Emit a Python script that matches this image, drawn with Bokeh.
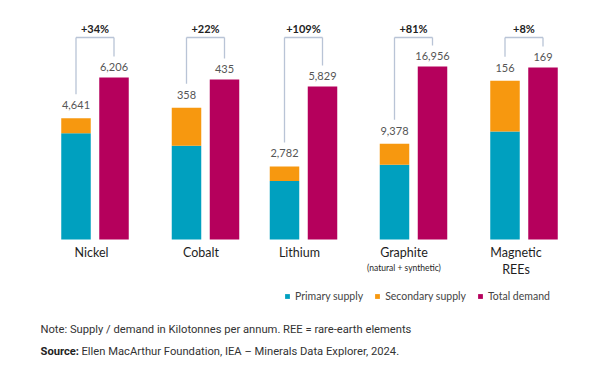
from bokeh.plotting import figure
from bokeh.models import Range1d, Legend, LegendItem, Label
from bokeh.embed import file_html
from bokeh.resources import INLINE
from bokeh.core.properties import value

# ---------------- data ----------------
categories = ["Nickel", "Cobalt", "Lithium", "Graphite", "Magnetic REEs"]
total_supply = [4641, 358, 2782, 9378, 156]
primary_supply = [4070, 255, 2230, 7320, 106]
secondary_supply = [s - p for s, p in zip(total_supply, primary_supply)]
total_demand = [6206, 435, 5829, 16956, 169]
growth_labels = ["+34%", "+22%", "+109%", "+81%", "+8%"]
cat_line1 = ["Nickel", "Cobalt", "Lithium", "Graphite", "Magnetic"]
cat_sub = ["", "", "", "(natural + synthetic)", "REEs"]

# ---------------- layout / style ----------------
W, H = 586, 357
TOP, BOTTOM = 0, H                # screen coordinates of the frame
group_x = [94.5, 205, 303, 413, 523.5]
label_dx = [-3.5, -4.5, -4, -9.5, -8]
bar_off, bar_w = 19, 29.5
baseline = 239
demand_px = [162, 160, 153, 173, 172]
bracket_top = 37
TEAL, ORANGE, MAGENTA = "#00a0bf", "#f7980f", "#b5005c"
BRACKET = "#b9c4d6"
FONT = value("Lato")

p = figure(width=W, height=H, x_range=Range1d(0, W), y_range=Range1d(BOTTOM, TOP),
           output_backend="svg", toolbar_location=None,
           x_axis_location=None, y_axis_location=None,
           min_border=0, outline_line_color=None, background_fill_color="white",
           border_fill_color="white")
p.grid.grid_line_color = None

ranges = {}
for i, d in enumerate(total_demand):
    u = d / demand_px[i]
    ranges[f"g{i}"] = Range1d(start=-(BOTTOM - baseline) * u, end=(baseline - TOP) * u)
p.extra_y_ranges = ranges

legend_r = {}
for i in range(len(categories)):
    name = f"g{i}"
    rng = ranges[name]
    u = (rng.end - rng.start) / H
    xs = group_x[i] - bar_off
    xd = group_x[i] + bar_off
    r1 = p.vbar(x=[xs], bottom=[0], top=[primary_supply[i]], width=bar_w,
                y_range_name=name, fill_color=TEAL, line_color=None)
    r2 = p.vbar(x=[xs], bottom=[primary_supply[i]], top=[total_supply[i]], width=bar_w,
                y_range_name=name, fill_color=ORANGE, line_color=None)
    r3 = p.vbar(x=[xd], bottom=[0], top=[total_demand[i]], width=bar_w,
                y_range_name=name, fill_color=MAGENTA, line_color=None)
    if i == 0:
        legend_r = {"p": r1, "s": r2, "d": r3}

    gap_s, gap_d = 13, 11
    for xx, v, g in ((xs, total_supply[i], gap_s), (xd, total_demand[i], gap_d)):
        p.add_layout(Label(x=xx, y=v, y_range_name=name, y_offset=g, text=f"{v:,}",
                           text_align="center", text_baseline="middle",
                           text_font="Lato", text_font_size="11px", text_color="#555555"))
    # bracket
    top_u = rng.end - (bracket_top - TOP) * u
    y0s = total_supply[i] + (gap_s + 11) * u
    y0d = total_demand[i] + (gap_d + 10) * u
    p.segment(x0=[xs, xd, xs], y0=[y0s, y0d, top_u], x1=[xs, xd, xd], y1=[top_u, top_u, top_u],
              y_range_name=name, line_color=BRACKET, line_width=1.3)

# growth labels
p.text(x=[(a - bar_off + a + bar_off) / 2 for a in group_x], y=[28] * 5, text=growth_labels,
       text_font=FONT, text_font_size="11px", text_font_style="bold",
       text_align="center", text_baseline="middle", text_color="#222222")

# category labels
lx = [a + b for a, b in zip(group_x, label_dx)]
p.text(x=lx, y=[252] * 5, text=cat_line1, text_font=FONT, text_font_size="12.5px",
       text_align="center", text_baseline="middle", text_color="#1e1e1e")
p.text(x=[lx[3]], y=[267], text=[cat_sub[3]], text_font=FONT, text_font_size="8.5px",
       text_align="center", text_baseline="middle", text_color="#1e1e1e")
p.text(x=[lx[4]], y=[269], text=[cat_sub[4]], text_font=FONT, text_font_size="12.5px",
       text_align="center", text_baseline="middle", text_color="#1e1e1e")

# legend
legend = Legend(items=[LegendItem(label="Primary supply", renderers=[legend_r["p"]]),
                       LegendItem(label="Secondary supply", renderers=[legend_r["s"]]),
                       LegendItem(label="Total demand", renderers=[legend_r["d"]])],
                location=(284, 55), orientation="horizontal",
                glyph_width=6, glyph_height=6, label_standoff=5, spacing=11,
                padding=0, margin=0, border_line_color=None, background_fill_alpha=0,
                label_text_font="Lato", label_text_font_size="10.5px",
                label_text_color="#444444", label_height=12)
p.add_layout(legend)

# notes
p.text(x=[40], y=[329], text=["Note: Supply / demand in Kilotonnes per annum. REE = rare-earth elements"],
       text_font=value("Roboto"), text_font_size="11.2px", text_align="left",
       text_baseline="middle", text_color="#333333")
p.text(x=[40], y=[351], text=["Source:"], text_font=value("Roboto"), text_font_size="11.2px",
       text_font_style="bold", text_align="left", text_baseline="middle", text_color="#222222")
p.text(x=[81], y=[351], text=["Ellen MacArthur Foundation, IEA \u2013 Minerals Data Explorer, 2024."],
       text_font=value("Roboto"), text_font_size="11.2px", text_align="left",
       text_baseline="middle", text_color="#333333")

open("out.html", "w").write(file_html(p, INLINE))
